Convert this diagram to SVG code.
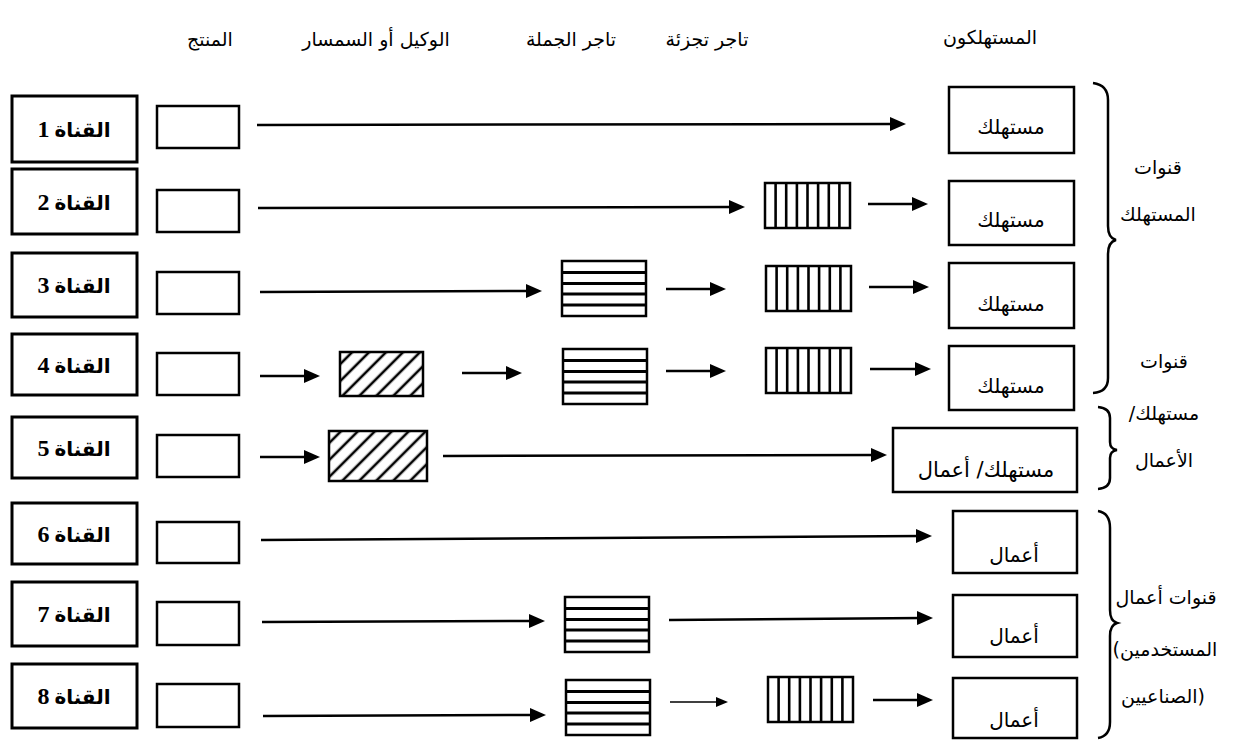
<svg xmlns="http://www.w3.org/2000/svg" width="1249" height="740" viewBox="0 0 1249 740">
<style>
.bg{fill:#fff}
.box{fill:#fff;stroke:#000;stroke-width:2.5}
.lbl{fill:#fff;stroke:#000;stroke-width:3}
.hd{font-family:"DejaVu Sans",sans-serif;font-size:19px;fill:#000;text-anchor:middle}
.side{font-family:"DejaVu Sans",sans-serif;font-size:19px;fill:#000;text-anchor:middle}
.cn{font-family:"Liberation Serif","DejaVu Sans",serif;font-weight:bold;font-size:20px;fill:#000;text-anchor:middle}
.cn .n{font-size:24px}
.ct{font-family:"DejaVu Sans",sans-serif;font-size:20px;fill:#000;text-anchor:middle}
.arr{stroke:#000;stroke-width:2.5;fill:none;marker-end:url(#ah)}
.thin{stroke:#000;stroke-width:1.6;fill:none;marker-end:url(#ahs)}
.brace{fill:none;stroke:#000;stroke-width:2.5}
.hl{stroke:#000;stroke-width:3}
.vl{stroke:#000;stroke-width:2.6}
</style>
<defs>
<marker id="ah" markerUnits="userSpaceOnUse" markerWidth="16" markerHeight="14" refX="6" refY="7" orient="auto">
<path d="M0,0 L16,7 L0,14 z" fill="#000"/>
</marker>
<marker id="ahs" markerUnits="userSpaceOnUse" markerWidth="12" markerHeight="10" refX="4" refY="5" orient="auto">
<path d="M0,0 L12,5 L0,10 z" fill="#000"/>
</marker>
<pattern id="hatch" patternUnits="userSpaceOnUse" width="12" height="12" patternTransform="rotate(45)">
<rect width="12" height="12" fill="#fff"/>
<line x1="6" y1="-1" x2="6" y2="13" stroke="#000" stroke-width="2.6"/>
</pattern>
<g id="wholesale">
<rect x="0" y="0" width="84" height="55" class="box" stroke-width="3"/>
<line class="hl" x1="0" y1="11.5" x2="84" y2="11.5"/>
<line class="hl" x1="0" y1="22.5" x2="84" y2="22.5"/>
<line class="hl" x1="0" y1="33" x2="84" y2="33"/>
<line class="hl" x1="0" y1="44" x2="84" y2="44"/>
</g>
<g id="retail">
<rect x="0" y="0" width="85" height="45" class="box" stroke-width="3"/>
<line class="vl" x1="10.6" y1="0" x2="10.6" y2="45"/>
<line class="vl" x1="21.2" y1="0" x2="21.2" y2="45"/>
<line class="vl" x1="31.9" y1="0" x2="31.9" y2="45"/>
<line class="vl" x1="42.5" y1="0" x2="42.5" y2="45"/>
<line class="vl" x1="53.1" y1="0" x2="53.1" y2="45"/>
<line class="vl" x1="63.8" y1="0" x2="63.8" y2="45"/>
<line class="vl" x1="74.4" y1="0" x2="74.4" y2="45"/>
</g>
</defs>
<rect class="bg" x="0" y="0" width="1249" height="740"/>

<g id="headers">
<text class="hd" x="210" y="46">المنتج</text>
<text class="hd" x="376" y="46">الوكيل أو السمسار</text>
<text class="hd" x="571" y="46">تاجر الجملة</text>
<text class="hd" x="707" y="46">تاجر تجزئة</text>
<text class="hd" x="990" y="44">المستهلكون</text>
</g>

<g id="channel-labels">
<g id="ch1"><rect class="lbl" x="12" y="96" width="125" height="66"/><text class="cn" x="74" y="137" direction="rtl">القناة <tspan class="n">1</tspan></text></g>
<g id="ch2"><rect class="lbl" x="12" y="169" width="125" height="65"/><text class="cn" x="74" y="210" direction="rtl">القناة <tspan class="n">2</tspan></text></g>
<g id="ch3"><rect class="lbl" x="12" y="253" width="125" height="64"/><text class="cn" x="74" y="293" direction="rtl">القناة <tspan class="n">3</tspan></text></g>
<g id="ch4"><rect class="lbl" x="12" y="334" width="125" height="61"/><text class="cn" x="74" y="373" direction="rtl">القناة <tspan class="n">4</tspan></text></g>
<g id="ch5"><rect class="lbl" x="12" y="417" width="125" height="61"/><text class="cn" x="74" y="456" direction="rtl">القناة <tspan class="n">5</tspan></text></g>
<g id="ch6"><rect class="lbl" x="12" y="503" width="125" height="61"/><text class="cn" x="74" y="542" direction="rtl">القناة <tspan class="n">6</tspan></text></g>
<g id="ch7"><rect class="lbl" x="12" y="582" width="125" height="64"/><text class="cn" x="74" y="622" direction="rtl">القناة <tspan class="n">7</tspan></text></g>
<g id="ch8"><rect class="lbl" x="12" y="664" width="125" height="64"/><text class="cn" x="74" y="704" direction="rtl">القناة <tspan class="n">8</tspan></text></g>
</g>

<g id="producers">
<g id="p1"><rect class="box" x="157" y="106" width="82" height="42"/></g>
<g id="p2"><rect class="box" x="157" y="190" width="82" height="42"/></g>
<g id="p3"><rect class="box" x="157" y="272" width="82" height="42"/></g>
<g id="p4"><rect class="box" x="157" y="353" width="82" height="42"/></g>
<g id="p5"><rect class="box" x="157" y="435" width="82" height="42"/></g>
<g id="p6"><rect class="box" x="157" y="522" width="82" height="41"/></g>
<g id="p7"><rect class="box" x="157" y="602" width="82" height="43"/></g>
<g id="p8"><rect class="box" x="157" y="684" width="82" height="43"/></g>
</g>

<g id="agents">
<g id="a4"><rect class="box" x="340" y="352" width="83" height="44" style="fill:url(#hatch)"/></g>
<g id="a5"><rect class="box" x="329" y="431" width="98" height="50" style="fill:url(#hatch)"/></g>
</g>

<g id="wholesalers">
<g id="w3"><use href="#wholesale" x="562" y="261"/></g>
<g id="w4"><use href="#wholesale" x="563" y="349"/></g>
<g id="w7"><use href="#wholesale" x="565" y="597"/></g>
<g id="w8"><use href="#wholesale" x="566" y="680"/></g>
</g>

<g id="retailers">
<g id="r2"><use href="#retail" x="765" y="183"/></g>
<g id="r3"><use href="#retail" x="766" y="266"/></g>
<g id="r4"><use href="#retail" x="766" y="348"/></g>
<g id="r8"><use href="#retail" x="768" y="677"/></g>
</g>

<g id="consumers">
<g id="c1"><rect class="box" x="949" y="87" width="125" height="66"/><text class="ct" x="1011" y="134">مستهلك</text></g>
<g id="c2"><rect class="box" x="949" y="181" width="125" height="64"/><text class="ct" x="1011" y="227">مستهلك</text></g>
<g id="c3"><rect class="box" x="949" y="263" width="125" height="65"/><text class="ct" x="1011" y="311">مستهلك</text></g>
<g id="c4"><rect class="box" x="949" y="346" width="125" height="64"/><text class="ct" x="1011" y="393">مستهلك</text></g>
<g id="c5"><rect class="box" x="893" y="428" width="184" height="64"/><text class="ct" x="986" y="477" direction="rtl" style="font-size:21px">مستهلك/ أعمال</text></g>
<g id="c6"><rect class="box" x="953" y="511" width="124" height="62"/><text class="ct" x="1014" y="562">أعمال</text></g>
<g id="c7"><rect class="box" x="953" y="595" width="124" height="62"/><text class="ct" x="1014" y="643">أعمال</text></g>
<g id="c8"><rect class="box" x="953" y="678" width="124" height="60"/><text class="ct" x="1014" y="727">أعمال</text></g>
</g>

<g id="connectors">
<line class="arr" x1="257" y1="125" x2="896" y2="124"/>
<line class="arr" x1="258" y1="208" x2="735" y2="207"/>
<line class="arr" x1="868" y1="204" x2="918" y2="204"/>
<line class="arr" x1="260" y1="292" x2="532" y2="291"/>
<line class="arr" x1="666" y1="289" x2="716" y2="289"/>
<line class="arr" x1="869" y1="287" x2="919" y2="287"/>
<line class="arr" x1="260" y1="376" x2="310" y2="376"/>
<line class="arr" x1="462" y1="373" x2="512" y2="373"/>
<line class="arr" x1="666" y1="371" x2="716" y2="371"/>
<line class="arr" x1="870" y1="369" x2="921" y2="369"/>
<line class="arr" x1="260" y1="457" x2="310" y2="457"/>
<line class="arr" x1="443" y1="456" x2="877" y2="455"/>
<line class="arr" x1="261" y1="540" x2="922" y2="536"/>
<line class="arr" x1="262" y1="622" x2="535" y2="621"/>
<line class="arr" x1="669" y1="620" x2="923" y2="618"/>
<line class="arr" x1="263" y1="716" x2="536" y2="715"/>
<line class="thin" x1="670" y1="702" x2="720" y2="702"/>
<line class="arr" x1="873" y1="700" x2="923" y2="700"/>
</g>

<g id="braces">
<path class="brace" d="M1093,83 Q1108,85 1108,100 L1108,226 Q1108,238 1116,240 Q1108,242 1108,254 L1108,378 Q1108,392 1093,393"/>
<path class="brace" d="M1098,407 Q1110,408 1110,418 L1110,442 Q1110,449 1117,450 Q1110,451 1110,458 L1110,478 Q1110,488 1098,489"/>
<path class="brace" d="M1098,511 Q1110,513 1110,528 L1110,610 Q1110,621 1117,623 Q1110,625 1110,636 L1110,722 Q1110,736 1098,738"/>
</g>

<g id="group-labels">
<text class="side" x="1158" y="174">قنوات</text>
<text class="side" x="1158" y="221">المستهلك</text>
<text class="side" x="1164" y="368">قنوات</text>
<text class="side" x="1164" y="420" direction="rtl">مستهلك/</text>
<text class="side" x="1164" y="467">الأعمال</text>
<text class="side" x="1166" y="604">قنوات أعمال</text>
<text class="side" x="1165" y="656" direction="ltr" unicode-bidi="embed">&#x200E;(المستخدمين</text>
<text class="side" x="1163" y="703" direction="ltr" unicode-bidi="embed">الصناعيين)&#x200E;</text>
</g>
</svg>
